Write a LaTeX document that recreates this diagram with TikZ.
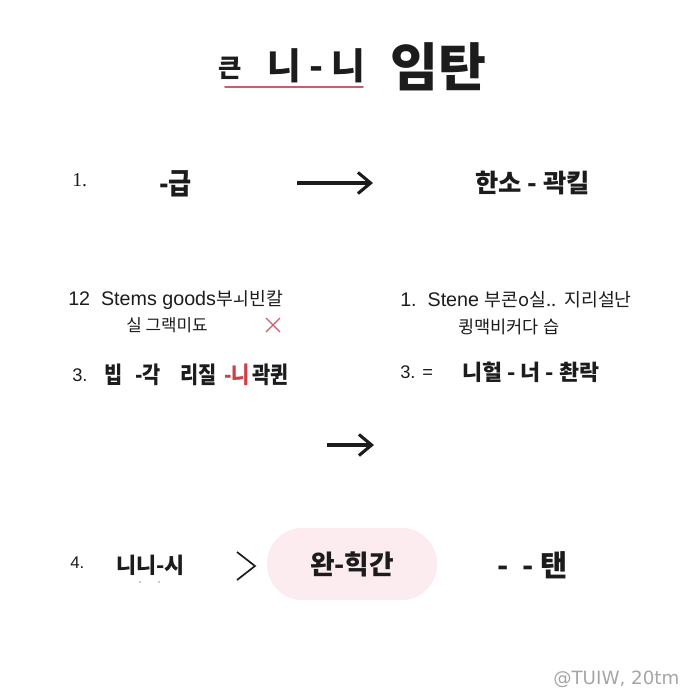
\documentclass[tikz,border=0pt]{standalone}
\usepackage{fontspec}
\setmainfont{Liberation Sans}
\newfontfamily\kr{Noto Sans CJK KR}
\newfontfamily\krn{Noto Sans CJK KR}[FakeStretch=0.85]
\newfontfamily\numserif{Liberation Serif}
\newfontfamily\marksans{DejaVu Sans}
\usetikzlibrary{arrows.meta,positioning}
\newcommand{\fsz}[1]{\fontsize{#1}{#1}\selectfont}
\definecolor{inkblack}{RGB}{28,28,28}
\definecolor{tagred}{RGB}{205,65,70}
\definecolor{linered}{RGB}{200,95,105}
\definecolor{boxpink}{RGB}{253,236,239}
\definecolor{markgray}{RGB}{165,165,165}
\tikzset
{
    krtext/.style   = {inner sep=0pt, anchor=west, text=inkblack},
    numtext/.style  = {inner sep=0pt, anchor=west, text=inkblack},
    flowarrow/.style = {-{Straight Barb[length=9pt,width=15pt]}, line width=2.2pt, inkblack},
    pinkbox/.style  = {rounded corners=25pt, fill=boxpink, minimum width=4.25cm, minimum height=1.8cm, inner sep=0pt}
}

\begin{document}
\begin{tikzpicture}[x=0.025cm, y=-0.025cm]
\useasboundingbox (0,0) rectangle (700,700);
\node [krtext, font=\kr\bfseries\fsz{18}] at (218,68) (keun) {큰};
\node [krtext, font=\kr\bfseries\fsz{26}] at (267,66) (nini) {니 - 니};
\node [krtext, font=\kr\bfseries\fsz{37}] at (390,67) (imtan) {임탄};
\draw [linered, line width=1.4pt, line cap=round] (225,87) -- (363,87);

\node [numtext, font=\numserif\fsz{14}] at (72,180) (n1) {1.};
\node [krtext, font=\krn\bfseries\fsz{21}] at (159,184) (geup) {-급};
\coordinate (a1s) at (297,183);
\coordinate (a1e) at (373,183);
\draw [flowarrow] (a1s) -- (a1e);
\node [krtext, font=\kr\bfseries\fsz{18}] at (475,183) (hanso) {한소 - 곽킬};

\node [numtext, font=\fsz{14}] at (68,300) (stems) {12\ \ Stems goods{\kr\fsz{13}부ㅚ빈칼}};
\node [krtext, font=\kr\fsz{12}, anchor=center] at (167,325) (sil) {실 그랙미됴};
\coordinate (cross) at (273,325);
\draw [linered, line width=0.9pt] ([shift={(-7,-7)}]cross) -- ([shift={(7,7)}]cross)
      ([shift={(-7,7)}]cross) -- ([shift={(7,-7)}]cross);

\node [numtext, font=\fsz{14}] at (400,300) (stene) {1.\ \ Stene {\kr\fsz{13}부콘o실..\ \ 지리설난}};
\node [krtext, font=\kr\fsz{12.5}] at (458,327) (kwing) {큉맥비커다 습};

\node [numtext, font=\fsz{13}] at (72,375) (n3a) {3.};
\node [krtext, font=\krn\bfseries\fsz{16.5}] at (104,375) (bip) {빕};
\node [krtext, font=\krn\bfseries\fsz{16.5}] at (135,375) (gak) {-각};
\node [krtext, font=\krn\bfseries\fsz{16.5}] at (180,375) (rijil) {리질};
\node [krtext, font=\krn\bfseries\fsz{16.5}, text=tagred] at (224,375) (redni) {-니};
\node [krtext, font=\krn\bfseries\fsz{16.5}] at (252,375) (gwak) {곽퀸};

\node [numtext, font=\fsz{13}] at (400,372) (n3b) {3. =};
\node [krtext, font=\kr\bfseries\fsz{15.5}] at (462,372) (niheol) {니헐 - 너 - 촨락};

\coordinate (a2s) at (327,445);
\coordinate (a2e) at (374,445);
\draw [flowarrow] (a2s) -- (a2e);

\node [numtext, font=\fsz{12}] at (70,563) (n4) {4.};
\node [krtext, font=\kr\bfseries\fsz{15.5}] at (116,565) (ninisi) {니니-시};
\fill [inkblack] (140,582) circle (0.7) (159,582) circle (0.7);
\coordinate (chev) at (246,566);
\draw [inkblack, line width=1.2pt] ([shift={(-9,-14)}]chev) -- ([shift={(9,0)}]chev) -- ([shift={(-9,14)}]chev);
\node [pinkbox] at (352,564) (wanbox) {};
\node [krtext, font=\kr\bfseries\fsz{19}, anchor=center] at (wanbox) (wan) {완-힉간};
\node [krtext, font=\kr\bfseries\fsz{21}] at (497,565) (taen) {-\ \ -\ 탠};

\node [numtext, font=\marksans\fsz{13}, text=markgray] at (553,679) (mark) {@TUIW, 20tm};
\end{tikzpicture}
\end{document}
